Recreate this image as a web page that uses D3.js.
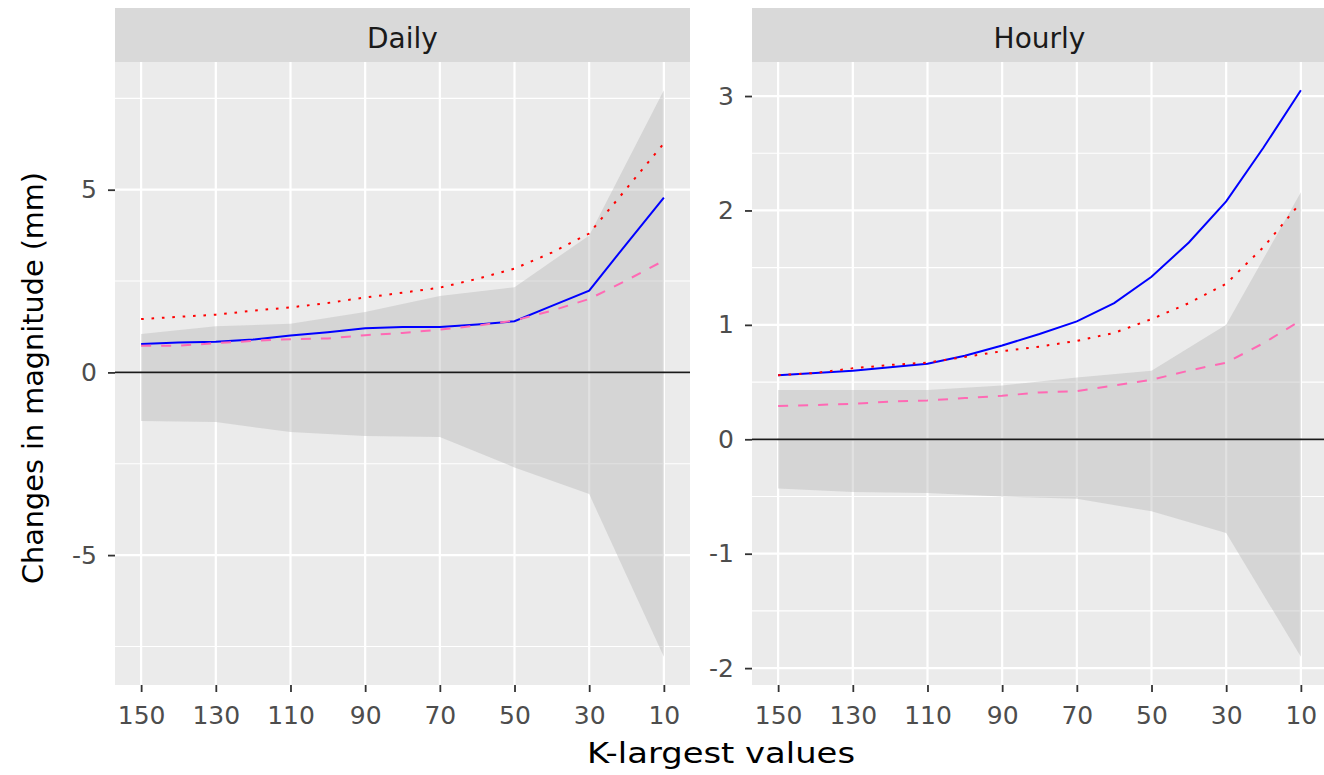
<!DOCTYPE html>
<html>
<head>
<meta charset="utf-8">
<script src="https://cdn.jsdelivr.net/npm/d3@7/dist/d3.min.js"></script>
<style>
  html, body { margin: 0; padding: 0; background: #ffffff; }
  svg { display: block; font-family: "DejaVu Sans", "Liberation Sans", sans-serif; }
</style>
</head>
<body>
<svg id="chart" width="1324" height="775"></svg>
<script>
// K-largest values along the x axis (reversed)
const kValues = [150, 140, 130, 120, 110, 100, 90, 80, 70, 60, 50, 40, 30, 20, 10];
const ribbonK = [150, 130, 110, 90, 70, 50, 30, 10];
const xTicks = [150, 130, 110, 90, 70, 50, 30, 10];

// Daily series
const dailySolid  = [0.78, 0.82, 0.84, 0.90, 1.01, 1.10, 1.21, 1.24, 1.24, 1.31, 1.40, 1.82, 2.24, 3.52, 4.78];
const dailyDotted = [1.46, 1.52, 1.58, 1.69, 1.78, 1.90, 2.05, 2.18, 2.32, 2.56, 2.84, 3.28, 3.80, 5.03, 6.27];
const dailyDashed = [0.73, 0.73, 0.80, 0.86, 0.91, 0.93, 1.02, 1.08, 1.17, 1.28, 1.42, 1.69, 2.01, 2.52, 3.06];
const dailyUpper  = [1.05, 1.26, 1.33, 1.65, 2.09, 2.33, 3.75, 7.72];
const dailyLower  = [-1.33, -1.36, -1.63, -1.74, -1.77, -2.60, -3.33, -7.78];
const dailyYTicks = [-5, 0, 5];
const dailyYMinor = [-7.5, -2.5, 2.5, 7.5];

// Hourly series
const hourlySolid  = [0.56, 0.58, 0.60, 0.63, 0.66, 0.73, 0.82, 0.92, 1.03, 1.19, 1.42, 1.72, 2.08, 2.55, 3.05];
const hourlyDotted = [0.56, 0.58, 0.62, 0.65, 0.67, 0.72, 0.77, 0.81, 0.86, 0.93, 1.05, 1.19, 1.36, 1.68, 2.07];
const hourlyDashed = [0.29, 0.30, 0.31, 0.33, 0.34, 0.36, 0.38, 0.41, 0.42, 0.47, 0.52, 0.60, 0.67, 0.84, 1.04];
const hourlyUpper  = [0.43, 0.43, 0.43, 0.47, 0.54, 0.60, 1.00, 2.16];
const hourlyLower  = [-0.43, -0.46, -0.47, -0.50, -0.52, -0.63, -0.82, -1.90];
const hourlyYTicks = [-2, -1, 0, 1, 2, 3];
const hourlyYMinor = [-1.5, -0.5, 0.5, 1.5, 2.5];

const panels = [
  { title: "Daily", x0: 115, x1: 690, solid: dailySolid, dotted: dailyDotted, dashed: dailyDashed,
    upper: dailyUpper, lower: dailyLower, yTicks: dailyYTicks, yMinor: dailyYMinor },
  { title: "Hourly", x0: 752, x1: 1327, solid: hourlySolid, dotted: hourlyDotted, dashed: hourlyDashed,
    upper: hourlyUpper, lower: hourlyLower, yTicks: hourlyYTicks, yMinor: hourlyYMinor }
];

const stripTop = 8, panelTop = 62, panelBottom = 685;
const svg = d3.select("#chart");
const plainNumber = d => String(d);

// ggplot-like 5% expansion of a continuous range
function expand(lo, hi) {
  const pad = (hi - lo) * 0.05;
  return [lo - pad, hi + pad];
}

panels.forEach(p => {
  const xDom = expand(d3.min(kValues), d3.max(kValues));
  const x = d3.scaleLinear().domain([xDom[1], xDom[0]]).range([p.x0, p.x1]);
  const allY = p.solid.concat(p.dotted, p.dashed, p.upper, p.lower);
  const yDom = expand(d3.min(allY), d3.max(allY));
  const y = d3.scaleLinear().domain(yDom).range([panelBottom, panelTop]);

  const clipId = "clip-" + p.title;
  svg.append("clipPath").attr("id", clipId)
    .append("rect").attr("x", p.x0).attr("y", panelTop)
    .attr("width", p.x1 - p.x0).attr("height", panelBottom - panelTop);

  // strip
  svg.append("rect").attr("x", p.x0).attr("y", stripTop)
    .attr("width", p.x1 - p.x0).attr("height", panelTop - stripTop)
    .attr("fill", "#d9d9d9");
  svg.append("text").attr("x", (p.x0 + p.x1) / 2).attr("y", 48)
    .attr("text-anchor", "middle").attr("font-size", 28).attr("fill", "#1a1a1a")
    .text(p.title);

  // panel background
  svg.append("rect").attr("x", p.x0).attr("y", panelTop)
    .attr("width", p.x1 - p.x0).attr("height", panelBottom - panelTop)
    .attr("fill", "#ebebeb");

  const g = svg.append("g").attr("clip-path", `url(#${clipId})`);

  // grid
  g.selectAll(".ymin").data(p.yMinor).enter().append("line")
    .attr("x1", p.x0).attr("x2", p.x1)
    .attr("y1", d => y(d)).attr("y2", d => y(d))
    .attr("stroke", "#ffffff").attr("stroke-width", 1.1);
  g.selectAll(".ymaj").data(p.yTicks).enter().append("line")
    .attr("x1", p.x0).attr("x2", p.x1)
    .attr("y1", d => y(d)).attr("y2", d => y(d))
    .attr("stroke", "#ffffff").attr("stroke-width", 2.2);
  g.selectAll(".xmaj").data(xTicks).enter().append("line")
    .attr("x1", d => x(d)).attr("x2", d => x(d))
    .attr("y1", panelTop).attr("y2", panelBottom)
    .attr("stroke", "#ffffff").attr("stroke-width", 2.2);

  // confidence ribbon
  const band = ribbonK.map((k, i) => ({ k, lo: p.lower[i], hi: p.upper[i] }));
  g.append("path").datum(band)
    .attr("d", d3.area().x(d => x(d.k)).y0(d => y(d.lo)).y1(d => y(d.hi)))
    .attr("fill", "rgb(180,180,180)").attr("fill-opacity", 0.4);

  // zero reference line
  g.append("line").attr("x1", p.x0).attr("x2", p.x1)
    .attr("y1", y(0)).attr("y2", y(0))
    .attr("stroke", "#1a1a1a").attr("stroke-width", 1.8);

  const line = d3.line().x(d => x(d.k)).y(d => y(d.v));
  const series = [
    { values: p.solid, color: "#0000ff", dash: null },
    { values: p.dashed, color: "#ff69b4", dash: "10,10" },
    { values: p.dotted, color: "#ff0000", dash: "2.6,7.8" }
  ];
  series.forEach(s => {
    g.append("path").datum(kValues.map((k, i) => ({ k, v: s.values[i] })))
      .attr("d", line).attr("fill", "none")
      .attr("stroke", s.color).attr("stroke-width", 2)
      .attr("stroke-dasharray", s.dash);
  });

  // x axis
  const xAxis = svg.append("g").attr("transform", `translate(0,${panelBottom})`)
    .call(d3.axisBottom(x).tickValues(xTicks).tickSize(7).tickPadding(14).tickFormat(plainNumber));
  xAxis.select(".domain").remove();
  xAxis.selectAll(".tick line").attr("stroke", "#333333").attr("stroke-width", 1.8);
  xAxis.selectAll(".tick text").attr("font-size", 25).attr("fill", "#4d4d4d")
    .attr("font-family", "DejaVu Sans, sans-serif").attr("dy", "0.71em");

  // y axis
  const yAxis = svg.append("g").attr("transform", `translate(${p.x0},0)`)
    .call(d3.axisLeft(y).tickValues(p.yTicks).tickSize(7).tickPadding(11).tickFormat(plainNumber));
  yAxis.select(".domain").remove();
  yAxis.selectAll(".tick line").attr("stroke", "#333333").attr("stroke-width", 1.8);
  yAxis.selectAll(".tick text").attr("font-size", 25).attr("fill", "#4d4d4d")
    .attr("font-family", "DejaVu Sans, sans-serif");
});

// axis titles
svg.append("text").attr("x", 721).attr("y", 763)
  .attr("text-anchor", "middle").attr("font-size", 28).attr("fill", "#000000")
  .attr("textLength", 268).attr("lengthAdjust", "spacingAndGlyphs")
  .text("K-largest values");
svg.append("text").attr("transform", "translate(43,378) rotate(-90)")
  .attr("text-anchor", "middle").attr("font-size", 28).attr("fill", "#000000")
  .attr("textLength", 412).attr("lengthAdjust", "spacingAndGlyphs")
  .text("Changes in magnitude (mm)");
</script>
</body>
</html>
